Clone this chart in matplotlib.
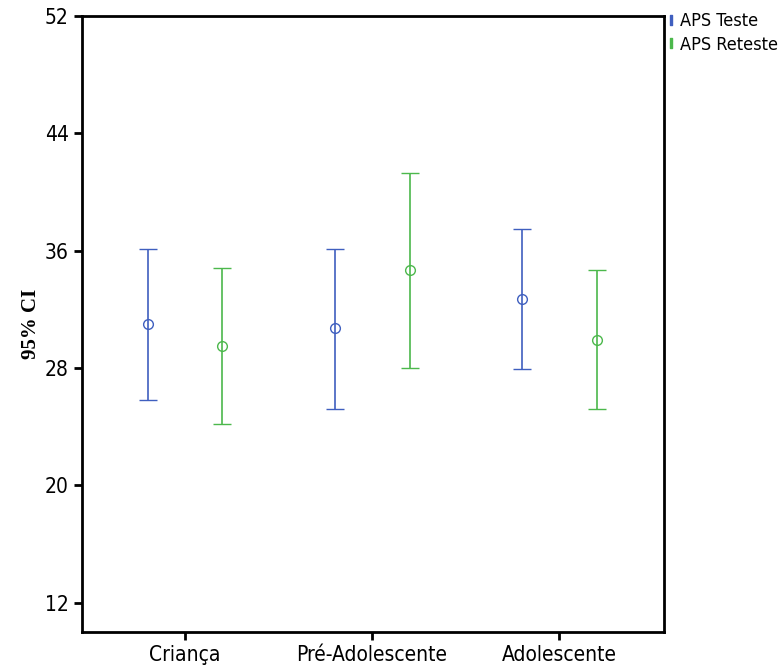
import matplotlib
matplotlib.use("Agg")
import matplotlib.pyplot as plt
import numpy as np
from matplotlib.lines import Line2D

grupos = ["Criança", "Pré-Adolescente", "Adolescente"]

teste_media = [31.0, 30.7, 32.7]
teste_inf = [25.8, 25.2, 27.9]
teste_sup = [36.1, 36.1, 37.5]

reteste_media = [29.5, 34.7, 29.9]
reteste_inf = [24.2, 28.0, 25.2]
reteste_sup = [34.8, 41.3, 34.7]

azul = "#3f5fbf"
verde = "#4cb84c"

plt.rcParams["font.family"] = ["DejaVu Sans"]
plt.rcParams["font.stretch"] = "condensed"

fig = plt.figure(figsize=(7.84, 6.67), dpi=100)
ax = fig.add_axes([0.1046, 0.0525, 0.7424, 0.9235])

x = np.arange(len(grupos))
desloc = 0.2

def desenhar(xs, media, inf, sup, cor, nome):
    media = np.array(media)
    err = [media - np.array(inf), np.array(sup) - media]
    return ax.errorbar(xs, media, yerr=err, fmt="o", color=cor, mfc="none",
                       mec=cor, ms=7, mew=1, elinewidth=1.2, capsize=6.5,
                       capthick=1.2, label=nome)

desenhar(x - desloc, teste_media, teste_inf, teste_sup, azul, "APS Teste")
desenhar(x + desloc, reteste_media, reteste_inf, reteste_sup, verde, "APS Reteste")

ax.set_xlim(-0.55, 2.56)
ax.set_ylim(10, 52)
ax.set_yticks([12, 20, 28, 36, 44, 52])
ax.set_xticks(x)
ax.set_xticklabels(grupos)
ax.tick_params(axis="both", labelsize=15, width=2, length=6, colors="black")
for s in ax.spines.values():
    s.set_linewidth(2)

ax.set_ylabel("95% CI", fontsize=15, fontweight="bold",
              family=["Liberation Serif", "DejaVu Serif"], labelpad=3)

# legenda só com as barras
hs = [Line2D([], [], color=azul, marker="$\\mathrm{I}$", ls="none", ms=7),
      Line2D([], [], color=verde, marker="$\\mathrm{I}$", ls="none", ms=7)]
ax.legend(hs, ["APS Teste", "APS Reteste"], loc="upper left",
          bbox_to_anchor=(1.0, 1.012), frameon=False, fontsize=13,
          handlelength=0.4, handletextpad=0.3, labelspacing=0.3,
          borderaxespad=0.1, borderpad=0.1)

fig.savefig("out.png", dpi=100)
